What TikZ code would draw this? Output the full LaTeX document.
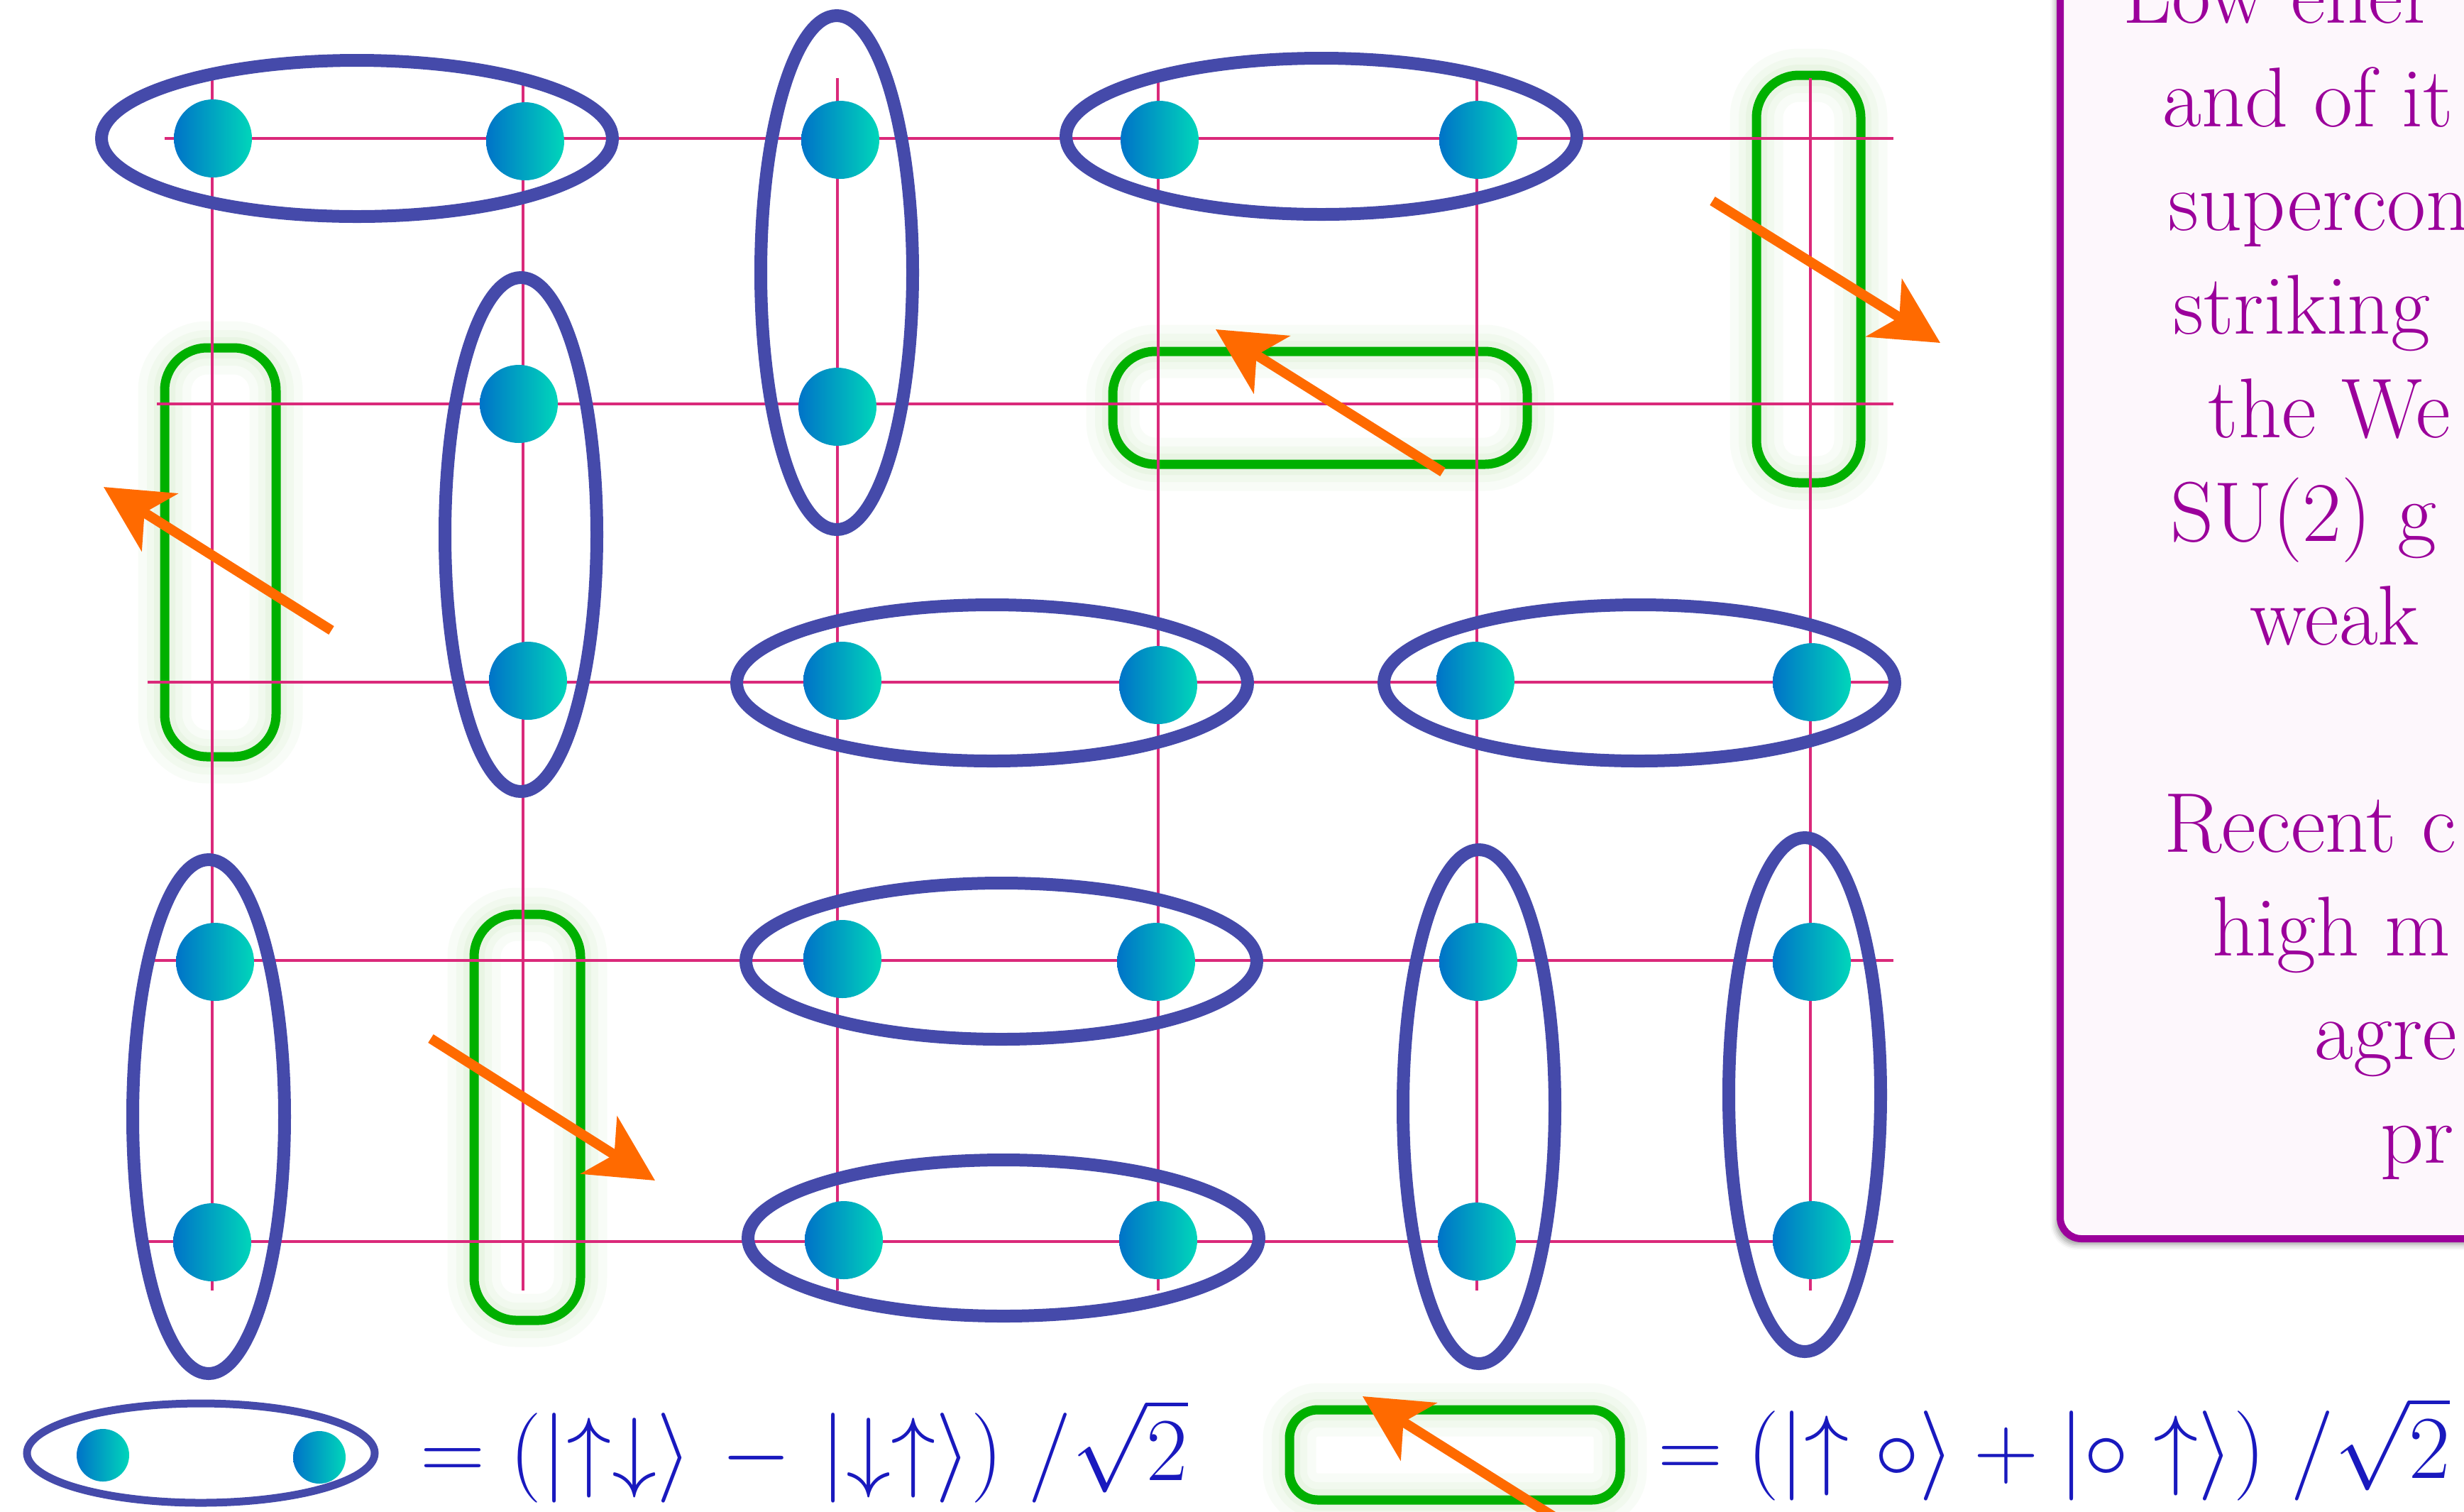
\RequirePackage{fix-cm}
\documentclass[tikz,border=0pt]{standalone}
\usepackage{amsmath}
\usepackage{xcolor}
\usetikzlibrary{arrows.meta,shadows.blur}
\definecolor{gridpink}{RGB}{218,41,122}
\definecolor{singletblue}{RGB}{69,74,170}
\definecolor{holegreen}{RGB}{0,176,0}
\definecolor{glowgreen}{RGB}{190,225,175}
\definecolor{spinorange}{RGB}{255,106,0}
\definecolor{siteblue}{RGB}{0,115,200}
\definecolor{siteteal}{RGB}{0,214,186}
\definecolor{textpurple}{RGB}{155,0,155}
\definecolor{boxfill}{RGB}{253,247,252}
\definecolor{ketblue}{RGB}{25,25,190}
\newcommand{\kt}[1]{\left|#1\right\rangle}

\begin{document}
\begin{tikzpicture}[x=1cm, y=-1cm,
  bond/.style={draw=gridpink, line width=0.04cm},
  site/.style={circle, inner sep=0pt, minimum size=1.1cm, left color=siteblue, right color=siteteal},
  smallsite/.style={site, minimum size=0.74cm},
  singlet/.style={draw=singletblue, line width=0.18cm},
  hole/.style={draw=holegreen, line width=0.13cm, rounded corners=6mm,
    preaction={draw=glowgreen, line width=0.75cm, opacity=0.1},
    preaction={draw=glowgreen, line width=0.5cm, opacity=0.12},
    preaction={draw=glowgreen, line width=0.3cm, opacity=0.16}},
  spin/.style={draw=spinorange, line width=0.14cm, -{Stealth[length=9.3mm, width=9.5mm, inset=2.5mm]}},
  infobox/.style={draw=textpurple, fill=boxfill, line width=0.1cm, rounded corners=3mm,
    blur shadow={shadow xshift=-0.6mm, shadow yshift=-0.8mm, shadow blur radius=0.8mm}},
  infotext/.style={anchor=base west, inner sep=0pt, text=textpurple, font=\fontsize{34}{41}\selectfont},
  ket/.style={anchor=base west, inner sep=0pt, text=ketblue, font=\fontsize{36}{40}\selectfont}]
\useasboundingbox (0,0) rectangle (34.72,21.29);

% holes (green boxes)
\draw[hole] (2.32,4.90) rectangle (3.89,10.66);
\draw[hole] (6.68,12.88) rectangle (8.18,18.60);
\draw[hole] (15.68,4.95) rectangle (21.52,6.54);
\draw[hole] (24.75,1.06) rectangle (26.22,6.80);

% lattice
\foreach \x in {2.99,7.37,11.80,16.32,20.81,25.51}
  \draw[bond] (\x,1.10) -- (\x,18.18);
\foreach \y/\s in {1.95/2.32, 5.69/2.21, 9.61/2.08, 13.53/2.08, 17.49/2.06}
  \draw[bond] (\s,\y) -- (26.68,\y);

% singlets
\draw[singlet] (5.03,1.95) ellipse [x radius=3.6cm, y radius=1.1cm];
\draw[singlet] (18.62,1.92) ellipse [x radius=3.6cm, y radius=1.1cm];
\draw[singlet] (13.98,9.62) ellipse [x radius=3.6cm, y radius=1.1cm];
\draw[singlet] (23.10,9.62) ellipse [x radius=3.6cm, y radius=1.1cm];
\draw[singlet] (14.11,13.54) ellipse [x radius=3.6cm, y radius=1.1cm];
\draw[singlet] (14.14,17.44) ellipse [x radius=3.6cm, y radius=1.1cm];
\draw[singlet] (11.79,3.84) ellipse [x radius=1.07cm, y radius=3.62cm];
\draw[singlet] (7.34,7.53) ellipse [x radius=1.07cm, y radius=3.62cm];
\draw[singlet] (2.94,15.73) ellipse [x radius=1.07cm, y radius=3.62cm];
\draw[singlet] (20.84,15.59) ellipse [x radius=1.07cm, y radius=3.62cm];
\draw[singlet] (25.43,15.42) ellipse [x radius=1.07cm, y radius=3.62cm];

% sites
\node[site] (s11) at (3.00,1.95) {};
\node[site] (s12) at (7.40,1.99) {};
\node[site] (s13) at (11.84,1.97) {};
\node[site] (s14) at (16.34,1.97) {};
\node[site] (s15) at (20.83,1.97) {};
\node[site] (s22) at (7.31,5.69) {};
\node[site] (s23) at (11.80,5.73) {};
\node[site] (s32) at (7.44,9.59) {};
\node[site] (s33) at (11.87,9.59) {};
\node[site] (s34) at (16.32,9.65) {};
\node[site] (s35) at (20.79,9.59) {};
\node[site] (s36) at (25.53,9.61) {};
\node[site] (s41) at (3.03,13.55) {};
\node[site] (s43) at (11.87,13.51) {};
\node[site] (s44) at (16.29,13.55) {};
\node[site] (s45) at (20.83,13.55) {};
\node[site] (s46) at (25.53,13.55) {};
\node[site] (s51) at (2.99,17.50) {};
\node[site] (s53) at (11.89,17.47) {};
\node[site] (s54) at (16.32,17.47) {};
\node[site] (s55) at (20.81,17.49) {};
\node[site] (s56) at (25.53,17.47) {};

% spins of the holes
\coordinate (a1) at (4.67,8.88);  \coordinate (b1) at (1.46,6.86);
\coordinate (a2) at (20.33,6.65); \coordinate (b2) at (17.13,4.64);
\coordinate (a3) at (24.13,2.83); \coordinate (b3) at (27.34,4.83);
\coordinate (a4) at (6.07,14.63); \coordinate (b4) at (9.23,16.63);
\draw[spin] (a1) -- (b1);
\draw[spin] (a2) -- (b2);
\draw[spin] (a3) -- (b3);
\draw[spin] (a4) -- (b4);

% legend
\draw[singlet, line width=0.11cm] (2.83,20.47) ellipse [x radius=2.45cm, y radius=0.70cm];
\node[smallsite] (l1) at (1.45,20.50) {};
\node[smallsite] (l2) at (4.50,20.53) {};
\node[ket] (k1) at (5.92,20.85) {$=(\kt{\uparrow\downarrow}\mkern2mu-\mkern2mu\kt{\downarrow\uparrow})\;/\sqrt{2}$};
\draw[hole, rounded corners=4mm] (18.17,19.86) rectangle (22.83,21.13);
\coordinate (a5) at (22.41,21.69); \coordinate (b5) at (19.20,19.67);
\draw[spin] (a5) -- (b5);
\node[ket] (k2) at (23.36,20.82) {$=(\kt{\uparrow\circ}+\kt{\circ\uparrow})\;/\sqrt{2}$};

% text box
\begin{scope}
\clip (0,0) rectangle (34.72,21.29);
\draw[infobox] (29.03,-0.5) rectangle (35.5,17.45);
\node[infotext] (t1) at (29.91,0.32) {Low ener};
\node[infotext] (t2) at (30.47,1.78) {and of it};
\node[infotext] (t3) at (30.55,3.24) {supercon};
\node[infotext] (t4) at (30.62,4.70) {striking};
\node[infotext] (t5) at (31.11,6.16) {the We};
\node[infotext] (t6) at (30.58,7.62) {SU(2) g};
\node[infotext] (t7) at (31.70,9.08) {weak};
\node[infotext] (t8) at (30.49,12.00) {Recent c};
\node[infotext] (t9) at (31.17,13.46) {high m};
\node[infotext] (t10) at (32.61,14.92) {agre};
\node[infotext] (t11) at (33.54,16.38) {pr};
\end{scope}
\end{tikzpicture}
\end{document}
